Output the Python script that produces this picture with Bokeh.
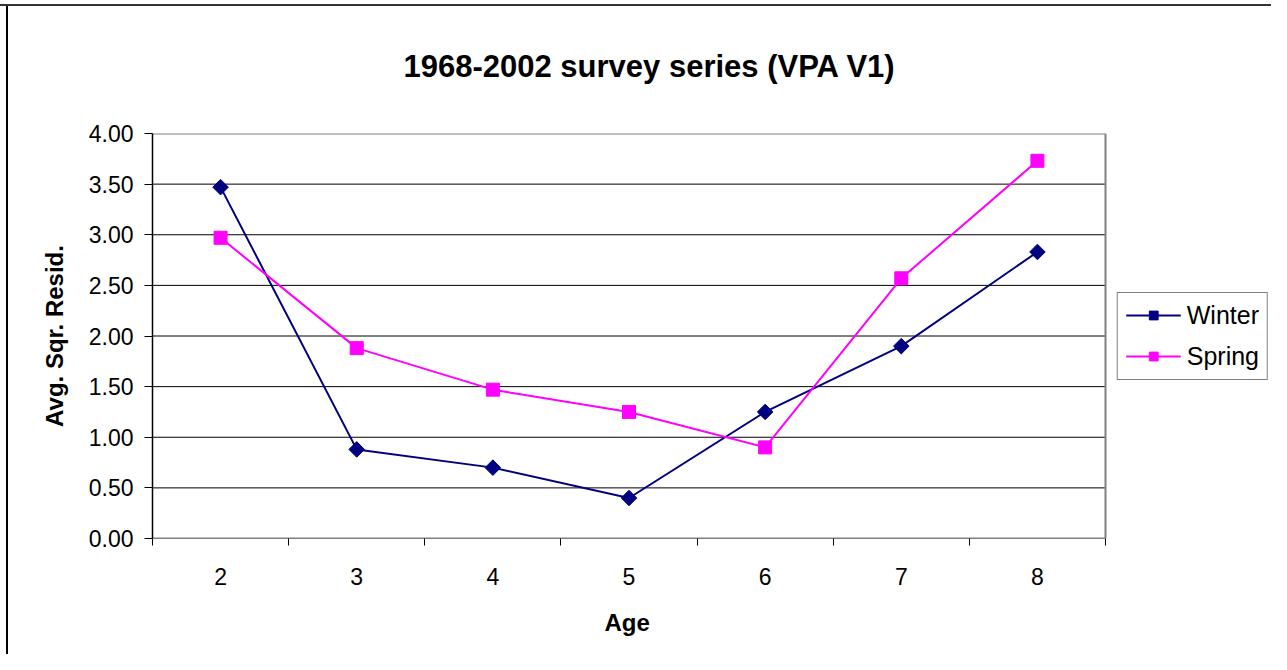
import math
from bokeh.plotting import figure
from bokeh.models import FixedTicker, NumeralTickFormatter, Legend, LegendItem, Range1d, Title
from bokeh.embed import file_html
from bokeh.resources import INLINE

ages = [2, 3, 4, 5, 6, 7, 8]
age_labels = ["2", "3", "4", "5", "6", "7", "8"]
winter = [3.47, 0.88, 0.70, 0.40, 1.25, 1.90, 2.83]
spring = [2.97, 1.88, 1.47, 1.25, 0.90, 2.57, 3.73]
y_ticks = [0.0, 0.5, 1.0, 1.5, 2.0, 2.5, 3.0, 3.5, 4.0]

FONT = "Liberation Sans"

W, H = 1271, 654
LEFT, TOP, BOTTOM = 152, 133, 115
PLOT_RIGHT_PX = 1105          # right edge of the plot area (pixels)
x_lo = ages[0] - 0.5
x_hi = ages[-1] + 0.5
px_per_unit = (PLOT_RIGHT_PX - LEFT) / (x_hi - x_lo)
x_end = x_lo + (W - LEFT) / px_per_unit

p = figure(width=W, height=H, output_backend="svg", toolbar_location=None, title=None,
           x_range=Range1d(x_lo, x_end), y_range=Range1d(y_ticks[0], y_ticks[-1]),
           min_border_left=LEFT, min_border_right=0, min_border_top=TOP, min_border_bottom=BOTTOM)

main_title = Title(text="1968-2002 survey series (VPA V1)", align="left", offset=251,
                   text_font=FONT, text_font_size="31px", text_font_style="bold",
                   text_color="black", vertical_align="top", standoff=95)
p.add_layout(main_title, "above")

p.outline_line_color = None
p.border_fill_alpha = 0
p.background_fill_alpha = 0
p.styles = {
    "background": "linear-gradient(#333333, #333333) 0 4px / 100% 2px no-repeat, "
                  "linear-gradient(#000000, #000000) 6px 4px / 2px 100% no-repeat, white",
}

p.xgrid.grid_line_color = None
p.ygrid.grid_line_color = None

# plot-area gridlines, axis line and border
p.segment(x0=x_lo, x1=x_hi, y0=y_ticks[1:-1], y1=y_ticks[1:-1], line_color="black", line_width=1)
p.segment(x0=x_lo, x1=x_hi, y0=y_ticks[0], y1=y_ticks[0], line_color="black", line_width=1.5)
p.segment(x0=[x_lo, x_hi], x1=[x_hi, x_hi], y0=[y_ticks[-1], y_ticks[0]], y1=[y_ticks[-1], y_ticks[-1]],
          line_color="#808080", line_width=2)

xa = p.xaxis[0]
xa.ticker = FixedTicker(ticks=ages, minor_ticks=[a - 0.5 for a in ages] + [ages[-1] + 0.5])
xa.major_label_overrides = {a: l for a, l in zip(ages, age_labels)}
xa.major_tick_line_color = None
xa.minor_tick_line_color = "black"
xa.minor_tick_out = 7
xa.minor_tick_in = 0
xa.axis_line_color = None
xa.major_label_standoff = 22
xa.major_label_text_font = FONT
xa.major_label_text_font_size = "23px"
xa.major_label_text_color = "black"

age_title = Title(text="Age", align="left", offset=452,
                  text_font=FONT, text_font_size="24px", text_font_style="bold",
                  text_color="black", standoff=38)
p.add_layout(age_title, "below")

ya = p.yaxis[0]
ya.ticker = FixedTicker(ticks=y_ticks)
ya.formatter = NumeralTickFormatter(format="0.00")
ya.major_tick_out = 8
ya.major_tick_in = 0
ya.minor_tick_line_color = None
ya.axis_line_color = "black"
ya.axis_line_width = 1.5
ya.major_label_standoff = 11
ya.major_label_text_font = FONT
ya.major_label_text_font_size = "23px"
ya.major_label_text_color = "black"
ya.axis_label = "Avg. Sqr. Resid."
ya.axis_label_text_font = FONT
ya.axis_label_text_font_size = "24px"
ya.axis_label_text_font_style = "bold"
ya.axis_label_text_color = "black"
ya.axis_label_standoff = 18

wl = p.line(ages, winter, line_color="#000080", line_width=2)
wm = p.scatter(ages, winter, marker="square", size=11, angle=math.pi / 4,
               fill_color="#000080", line_color="#000080")
sl = p.line(ages, spring, line_color="#FF00FF", line_width=2)
sm = p.scatter(ages, spring, marker="square", size=13, fill_color="#FF00FF", line_color="#FF00FF")

legend = Legend(items=[LegendItem(label="Winter", renderers=[wl, wm]),
                       LegendItem(label="Spring", renderers=[sl, sm])],
                location="right")
legend.border_line_color = "black"
legend.border_line_width = 1
legend.label_text_font = FONT
legend.label_text_font_size = "25px"
legend.label_text_color = "black"
legend.glyph_width = 55
legend.glyph_height = 22
legend.spacing = 12
legend.padding = 8
legend.margin = 3
legend.label_standoff = 6
legend.background_fill_color = "white"
legend.background_fill_alpha = 1
p.add_layout(legend, "center")

open("out.html", "w").write(file_html(p, INLINE))
